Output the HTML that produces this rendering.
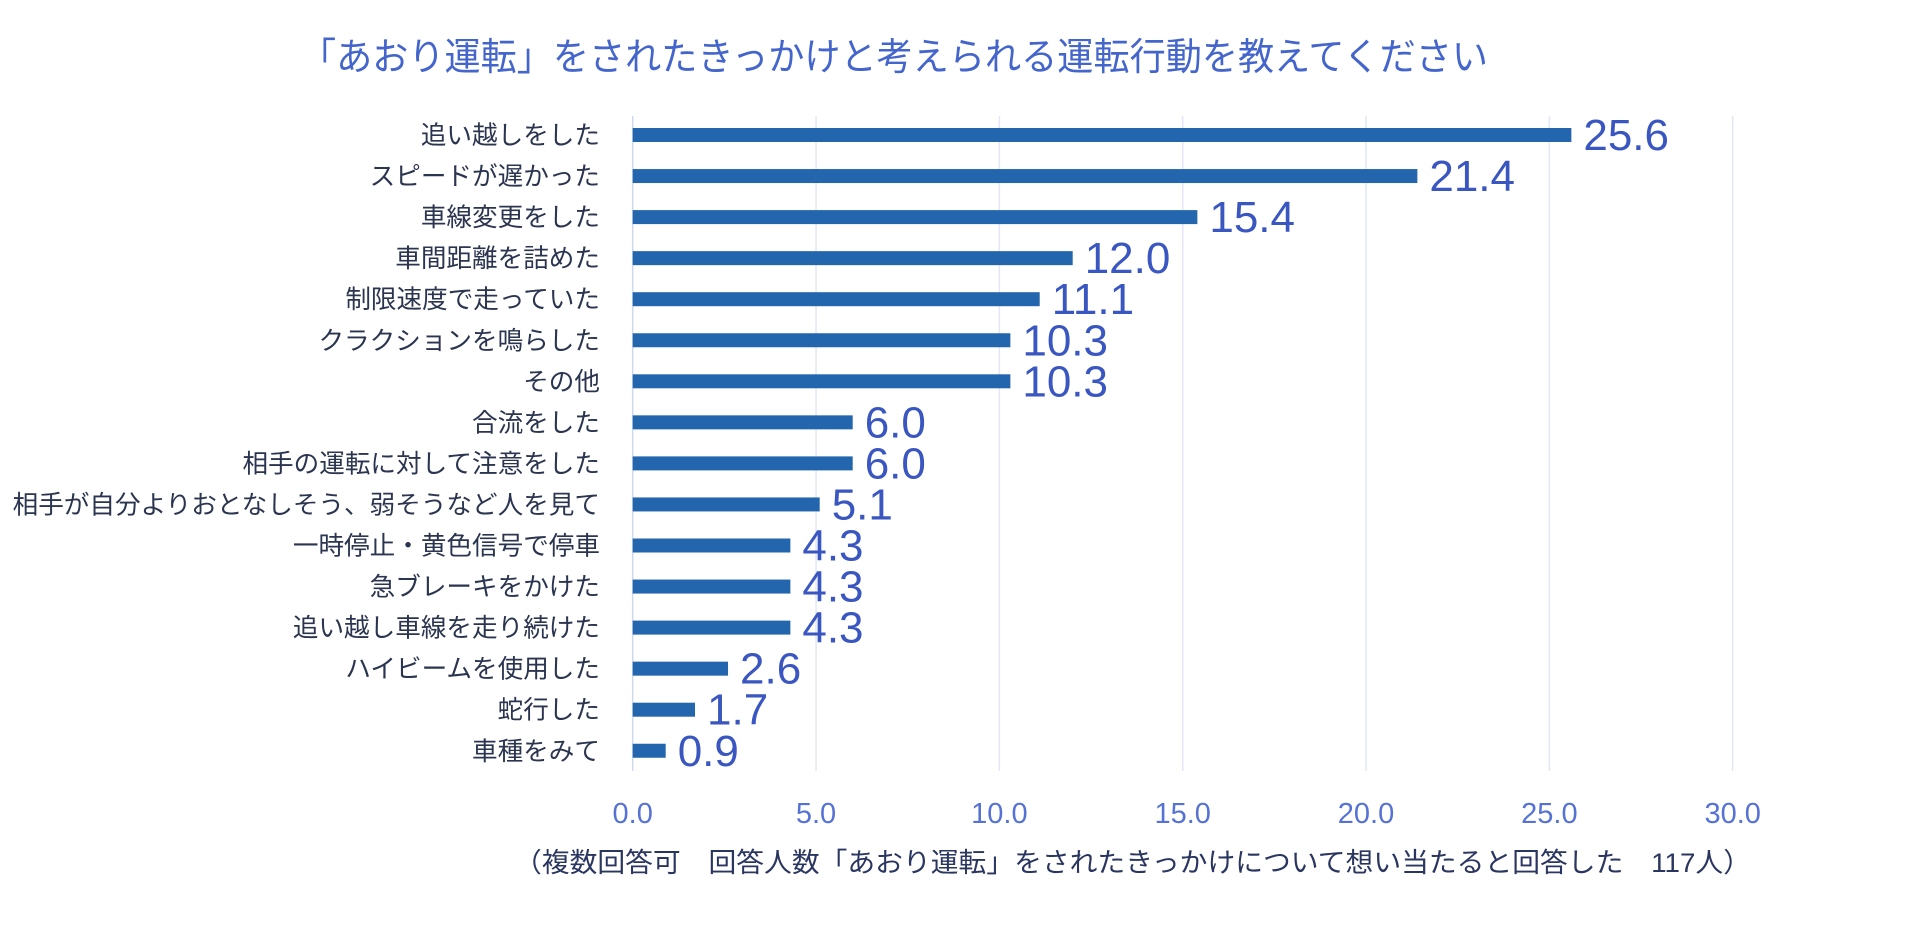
<!DOCTYPE html>
<html><head><meta charset="utf-8"><style>
html,body{margin:0;padding:0;background:#fff;}
svg{display:block;font-family:"Liberation Sans","Noto Sans CJK JP",sans-serif;}
</style></head><body>
<svg id="chart" width="1920" height="951" viewBox="0 0 1920 951" xmlns="http://www.w3.org/2000/svg">
<text x="300" y="70" font-size="38" fill="#4466cc" textLength="1188" lengthAdjust="spacingAndGlyphs">「あおり運転」をされたきっかけと考えられる運転行動を教えてください</text>
<g id="grid"></g><g id="bars"></g><g id="xticks"></g>
<text x="514" y="872" font-size="27" fill="#2a3660" textLength="1237" lengthAdjust="spacingAndGlyphs">（複数回答可　回答人数「あおり運転」をされたきっかけについて想い当たると回答した　117人）</text>
</svg>
<script>
const categories = ["追い越しをした","スピードが遅かった","車線変更をした","車間距離を詰めた","制限速度で走っていた","クラクションを鳴らした","その他","合流をした","相手の運転に対して注意をした","相手が自分よりおとなしそう、弱そうなど人を見て","一時停止・黄色信号で停車","急ブレーキをかけた","追い越し車線を走り続けた","ハイビームを使用した","蛇行した","車種をみて"];
const values = [25.6,21.4,15.4,12.0,11.1,10.3,10.3,6.0,6.0,5.1,4.3,4.3,4.3,2.6,1.7,0.9];
const ticks = [0,5,10,15,20,25,30];
const NS="http://www.w3.org/2000/svg";
const x0=632.7, xMax=30, plotW=1100;
const x = v => x0 + v/xMax*plotW;
const y = i => 135 + i*41.05;
function mk(tag, attrs, parent){const e=document.createElementNS(NS,tag);for(const k in attrs)e.setAttribute(k,attrs[k]);parent.appendChild(e);return e;}
const grid=document.getElementById('grid'), bars=document.getElementById('bars'), xt=document.getElementById('xticks');
ticks.forEach(t=>{
  const l=mk('line',{x1:x(t),x2:x(t),y1:116,y2:771,stroke:t===0?'#d0d8ec':'#e2e7f5','stroke-width':1.5},grid);
  
  
  const tx=mk('text',{x:x(t),y:823,'font-size':29,fill:'#5572d4','text-anchor':'middle'},xt);
  tx.textContent=t.toFixed(1);
  
  
});
categories.forEach((c,i)=>{
  const lb=mk('text',{x:600,y:y(i)+9,'font-size':25.6,fill:'#2b3550','text-anchor':'end'},bars);
  lb.textContent=c;
  
  
  const r=mk('rect',{x:x0,y:y(i)-7,width:x(values[i])-x0,height:14,fill:'#2466ae'},bars);
  
  
  const v=mk('text',{x:x(values[i])+12,y:y(i)+15,'font-size':44,fill:'#3a56c0'},bars);
  v.textContent=values[i].toFixed(1);
  
  
});
</script>
</body></html>
